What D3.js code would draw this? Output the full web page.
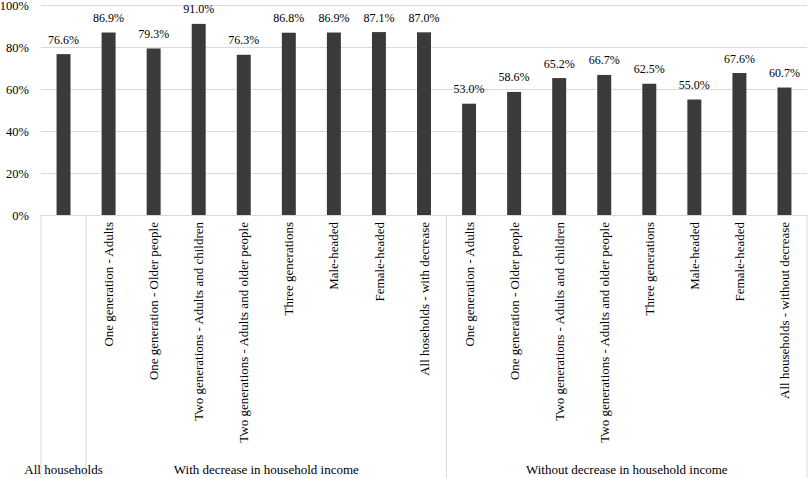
<!DOCTYPE html>
<html>
<head>
<meta charset="utf-8">
<script src="https://cdn.jsdelivr.net/npm/d3@7"></script>
<style>
  html, body { margin: 0; padding: 0; background: #fff; }
  svg { display: block; }
</style>
</head>
<body>
<svg id="chart" width="809" height="478"></svg>
<script>
const categories = [
  "",
  "One generation - Adults",
  "One generation - Older people",
  "Two generations - Adults and children",
  "Two generations - Adults and older people",
  "Three generations",
  "Male-headed",
  "Female-headed",
  "All hoseholds - with decrease",
  "One generation - Adults",
  "One generation - Older people",
  "Two generations - Adults and children",
  "Two generations - Adults and older people",
  "Three generations",
  "Male-headed",
  "Female-headed",
  "All households - without decrease"
];
const values = [76.6, 86.9, 79.3, 91.0, 76.3, 86.8, 86.9, 87.1, 87.0,
                53.0, 58.6, 65.2, 66.7, 62.5, 55.0, 67.6, 60.7];
const groupNames = ["All households", "With decrease in household income", "Without decrease in household income"];
const groupSizes = [1, 8, 8];
const yTicks = [0, 20, 40, 60, 80, 100];

const FONT = "'Liberation Serif', 'Times New Roman', serif";
const svg = d3.select("#chart");
const mLeft = 41, mRight = 807, mTop = 5, mBase = 215, mBottom = 478;

const pIn = 0.69;
const x = d3.scaleBand().domain(d3.range(values.length)).range([mLeft, mRight])
  .paddingInner(pIn).paddingOuter(pIn / 2);
const step = x.step();
const bound = i => mLeft + i * step;
const y = d3.scaleLinear().domain([0, 100]).range([mBase, mTop]);

// grid + y axis
const yAxis = d3.axisLeft(y).tickValues(yTicks).tickFormat(d => d + "%")
  .tickSize(-(mRight - mLeft)).tickPadding(12);
const gy = svg.append("g").attr("transform", `translate(${mLeft},0)`).call(yAxis)
  .attr("font-family", FONT).attr("font-size", 12.5);
gy.select(".domain").remove();
gy.selectAll(".tick line").attr("stroke", "#d9d9d9").attr("stroke-width", 1);
gy.selectAll(".tick text").attr("fill", "#000");

// bars
svg.append("g").selectAll("rect").data(values).join("rect")
  .attr("x", (d, i) => x(i))
  .attr("width", x.bandwidth())
  .attr("y", d => y(d))
  .attr("height", d => mBase - y(d))
  .attr("fill", "#3a3a3a");

// value labels
svg.append("g").selectAll("text").data(values).join("text")
  .attr("x", (d, i) => x(i) + x.bandwidth() / 2)
  .attr("y", d => y(d) - 10.5)
  .attr("text-anchor", "middle")
  .attr("font-family", FONT)
  .attr("font-size", 12)
  .attr("fill", "#000")
  .text(d => d.toFixed(1) + "%");

// category labels (rotated)
svg.append("g").selectAll("text").data(categories).join("text")
  .attr("transform", (d, i) => `translate(${x(i) + x.bandwidth() / 2},222) rotate(-90)`)
  .attr("text-anchor", "end")
  .attr("dy", "0.35em")
  .attr("font-family", FONT)
  .attr("font-size", 13)
  .attr("fill", "#000")
  .text(d => d);

// group separators
let acc = 0;
const bounds = [0];
groupSizes.forEach(s => { acc += s; bounds.push(acc); });
svg.append("g").selectAll("line").data(bounds).join("line")
  .attr("x1", b => bound(b)).attr("x2", b => bound(b))
  .attr("y1", mBase).attr("y2", mBottom)
  .attr("stroke", "#d9d9d9").attr("stroke-width", 1);

// group labels
svg.append("g").selectAll("text").data(groupNames).join("text")
  .attr("x", (d, i) => (bound(bounds[i]) + bound(bounds[i + 1])) / 2)
  .attr("y", 474)
  .attr("text-anchor", "middle")
  .attr("font-family", FONT)
  .attr("font-size", 13)
  .attr("fill", "#000")
  .text(d => d);
</script>
</body>
</html>
